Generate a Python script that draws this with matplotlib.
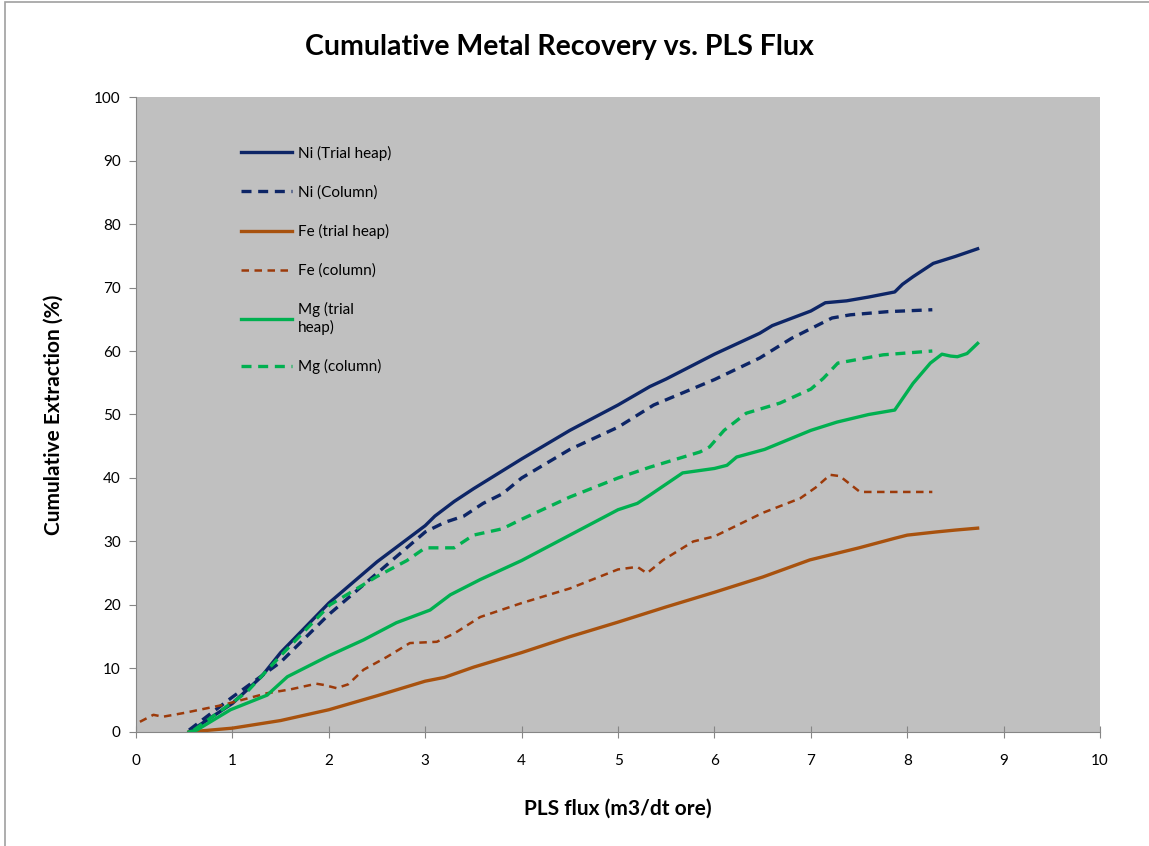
import matplotlib
matplotlib.use("Agg")
import matplotlib.pyplot as plt
from matplotlib.patches import Rectangle

# values
ni_heap_x = [0.55, 0.8, 1.0, 1.3, 1.5, 2.0, 2.5, 3.0, 3.1, 3.3, 3.5, 4.0, 4.5, 5.0, 5.33, 5.5, 6.0,
             6.47, 6.6, 7.0, 7.15, 7.37, 7.6, 7.87, 7.95, 8.06, 8.27, 8.5, 8.73]
ni_heap_y = [0.0, 2.5, 4.5, 8.7, 12.5, 20.3, 26.8, 32.5, 34.0, 36.3, 38.3, 43.0, 47.5, 51.5, 54.4, 55.6, 59.5,
             62.8, 64.0, 66.3, 67.6, 67.9, 68.5, 69.3, 70.5, 71.7, 73.8, 74.9, 76.1]

ni_col_x = [0.55, 1.0, 1.5, 2.0, 2.5, 3.0, 3.2, 3.4, 3.6, 3.8, 4.0, 4.5, 5.0, 5.37, 6.0, 6.47, 6.8,
            7.22, 7.41, 7.8, 8.26]
ni_col_y = [0.3, 5.5, 11.0, 18.5, 25.0, 31.5, 33.0, 34.0, 36.0, 37.5, 40.0, 44.5, 48.0, 51.5, 55.5, 58.9, 62.0,
            65.2, 65.7, 66.2, 66.5]

fe_heap_x = [0.55, 1.0, 1.5, 2.0, 2.5, 3.0, 3.2, 3.5, 4.0, 4.5, 5.0, 5.5, 6.0, 6.5, 6.99, 7.5, 7.87, 8.0,
             8.3, 8.5, 8.73]
fe_heap_y = [0.0, 0.6, 1.8, 3.5, 5.7, 8.0, 8.6, 10.2, 12.5, 15.0, 17.3, 19.7, 22.0, 24.4, 27.1, 29.0, 30.5, 31.0,
             31.5, 31.8, 32.1]

fe_col_x = [0.04, 0.18, 0.28, 0.5, 0.9, 1.36, 1.6, 1.87, 1.95, 2.08, 2.2, 2.36, 2.6, 2.84, 3.12, 3.3,
            3.57, 4.0, 4.5, 5.0, 5.2, 5.3, 5.47, 5.78, 6.0, 6.5, 6.89, 7.05, 7.2, 7.3, 7.51, 7.7, 8.26]
fe_col_y = [1.6, 2.7, 2.4, 3.0, 4.25, 6.1, 6.7, 7.6, 7.4, 6.9, 7.5, 9.8, 11.8, 14.0, 14.2, 15.5,
            18.1, 20.3, 22.6, 25.6, 26.0, 25.0, 27.1, 30.0, 30.8, 34.5, 36.8, 38.5, 40.5, 40.3, 37.8, 37.8, 37.8]

mg_heap_x = [0.55, 0.63, 0.98, 1.36, 1.57, 2.0, 2.36, 2.7, 3.05, 3.26, 3.57, 4.0, 4.5, 5.0, 5.2, 5.33,
             5.67, 6.0, 6.13, 6.23, 6.52, 7.0, 7.27, 7.6, 7.87, 8.06, 8.24, 8.36, 8.45, 8.52, 8.62, 8.73]
mg_heap_y = [0.0, 0.3, 3.5, 5.8, 8.7, 12.0, 14.5, 17.2, 19.2, 21.6, 24.0, 27.0, 31.0, 35.0, 36.0, 37.3,
             40.8, 41.5, 42.0, 43.3, 44.5, 47.5, 48.8, 50.0, 50.7, 54.9, 58.1, 59.5, 59.2, 59.1, 59.6, 61.2]

mg_col_x = [0.6, 1.15, 1.5, 2.01, 2.5, 2.81, 3.0, 3.3, 3.5, 3.8, 4.0, 4.5, 5.0, 5.33, 5.85, 5.95, 6.1,
            6.33, 6.68, 7.0, 7.13, 7.28, 7.75, 8.26]
mg_col_y = [0.3, 6.3, 12.0, 20.0, 24.5, 27.0, 29.0, 29.0, 31.0, 32.0, 33.5, 37.0, 40.0, 41.7, 44.1, 44.9, 47.5,
            50.2, 51.8, 54.0, 55.7, 58.1, 59.4, 60.0]

navy = "#0D2566"
fe_solid = "#A8520E"
fe_dash = "#9C3A0A"
green = "#00B050"

fig = plt.figure(figsize=(11.49, 8.46), dpi=100)
fig.patches.append(Rectangle((0.0045, -0.05), 1.2, 1.05 - 0.0025, transform=fig.transFigure,
                             fill=False, edgecolor="#A0A0A0", linewidth=1.2))
ax = fig.add_axes([0.1184, 0.1348, 0.8390, 0.7505])
ax.set_facecolor("#C0C0C0")

ax.plot(ni_heap_x, ni_heap_y, color=navy, lw=2.4, label="Ni (Trial heap)")
ax.plot(ni_col_x, ni_col_y, color=navy, lw=2.4, ls=(0, (3, 2)), label="Ni (Column)")
ax.plot(fe_heap_x, fe_heap_y, color=fe_solid, lw=2.4, label="Fe (trial heap)")
ax.plot(fe_col_x, fe_col_y, color=fe_dash, lw=1.8, ls=(0, (3, 2.2)), label="Fe (column)")
ax.plot(mg_heap_x, mg_heap_y, color=green, lw=2.4, label="Mg (trial\nheap)")
ax.plot(mg_col_x, mg_col_y, color=green, lw=2.4, ls=(0, (3, 2)), label="Mg (column)")

ax.set_xlim(0, 10)
ax.set_ylim(0, 100)
ax.set_xticks(range(0, 11))
ax.set_yticks(range(0, 101, 10))
for s in ["top", "right"]:
    ax.spines[s].set_visible(False)
for s in ["left", "bottom"]:
    ax.spines[s].set_color("#868686")
ax.tick_params(axis="y", direction="out", length=5, color="#868686", labelsize=11, pad=6)
ax.tick_params(axis="x", direction="inout", length=8, color="#868686", labelsize=11, pad=12)

fnt = "Lato"
for lab in ax.get_xticklabels() + ax.get_yticklabels():
    lab.set_fontfamily(fnt)

ax.set_xlabel("PLS flux (m3/dt ore)", fontsize=15, fontweight="bold", family=fnt, labelpad=22)
ax.set_ylabel("Cumulative Extraction (%)", fontsize=15, fontweight="bold", family=fnt, labelpad=22)
fig.text(0.487, 0.944, "Cumulative Metal Recovery vs. PLS Flux", ha="center", va="center",
         fontsize=20.5, fontweight="bold", family=fnt)

leg = ax.legend(loc="upper left", bbox_to_anchor=(0.095, 0.945), frameon=False,
                handlelength=3.3, handletextpad=0.4, labelspacing=1.6,
                prop={"family": fnt, "size": 11})

fig.savefig("out.png", dpi=100)
